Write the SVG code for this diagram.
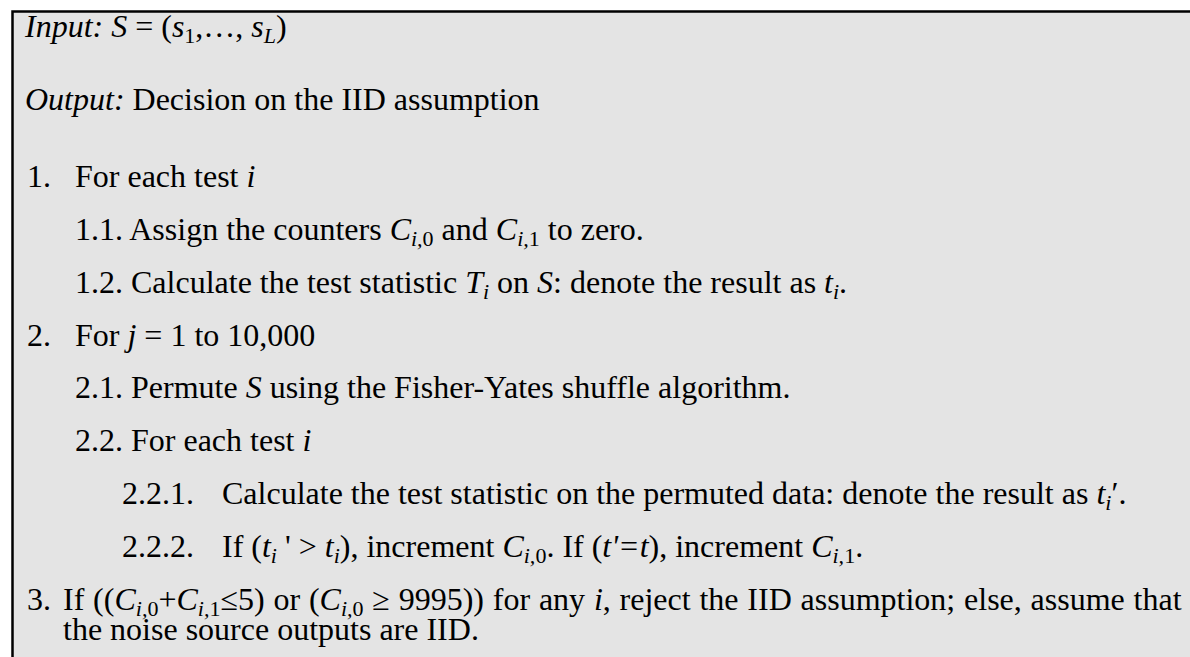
<svg xmlns="http://www.w3.org/2000/svg" width="1190" height="657" viewBox="0 0 1190 657">
<style>
text{font-family:"Liberation Serif","Times New Roman",serif;font-size:32px;fill:#000}
.i{font-style:italic}
.s{font-size:22px}
.frame{stroke:#000;stroke-width:2.5;fill:none}
</style>
<rect x="0" y="0" width="1190" height="657" fill="#fff"/>
<g id="box">
<rect x="12" y="11" width="1190" height="660" fill="#e4e4e4"/>
<path class="frame" d="M1195 11.5 H12.5 V665"/>
</g>
<g id="header">
<text x="25" y="37"><tspan class="i">Input: S</tspan> = (<tspan class="i">s</tspan><tspan class="s" dy="6">1</tspan><tspan dy="-6">,…, </tspan><tspan class="i">s</tspan><tspan class="s i" dy="6">L</tspan><tspan dy="-6">)</tspan></text>
<text x="25" y="110"><tspan class="i">Output:</tspan> Decision on the IID assumption</text>
</g>
<g id="step1">
<text x="27" y="187">1.</text>
<text x="75" y="187">For each test <tspan class="i">i</tspan></text>
<text x="75" y="240">1.1. Assign the counters <tspan class="i">C</tspan><tspan class="s" dy="6"><tspan class="i">i,</tspan>0</tspan><tspan dy="-6"> and </tspan><tspan class="i">C</tspan><tspan class="s" dy="6"><tspan class="i">i,</tspan>1</tspan><tspan dy="-6"> to zero.</tspan></text>
<text x="75" y="293">1.2. Calculate the test statistic <tspan class="i">T</tspan><tspan class="s i" dy="6">i</tspan><tspan dy="-6"> on </tspan><tspan class="i">S</tspan>: denote the result as <tspan class="i">t</tspan><tspan class="s i" dy="6">i</tspan><tspan dy="-6">.</tspan></text>
</g>
<g id="step2">
<text x="27" y="346">2.</text>
<text x="75" y="346">For <tspan class="i">j</tspan> = 1 to 10,000</text>
<text x="75" y="398">2.1. Permute <tspan class="i">S</tspan> using the Fisher-Yates shuffle algorithm.</text>
<text x="75" y="451">2.2. For each test <tspan class="i">i</tspan></text>
<text x="122" y="504">2.2.1.</text>
<text x="222" y="504">Calculate the test statistic on the permuted data: denote the result as <tspan class="i">t</tspan><tspan class="s i" dy="6">i</tspan><tspan dy="-6">′.</tspan></text>
<text x="122" y="557">2.2.2.</text>
<text x="222" y="557">If (<tspan class="i">t</tspan><tspan class="s i" dy="6">i</tspan><tspan dy="-6"> ' &gt; </tspan><tspan class="i">t</tspan><tspan class="s i" dy="6">i</tspan><tspan dy="-6">), increment </tspan><tspan class="i">C</tspan><tspan class="s" dy="6"><tspan class="i">i,</tspan>0</tspan><tspan dy="-6">. If (</tspan><tspan class="i">t'=t</tspan>), increment <tspan class="i">C</tspan><tspan class="s" dy="6"><tspan class="i">i,</tspan>1</tspan><tspan dy="-6">.</tspan></text>
</g>
<g id="step3">
<text x="27" y="610">3.</text>
<text x="63" y="610" word-spacing="0.8">If ((<tspan class="i">C</tspan><tspan class="s" dy="6"><tspan class="i">i,</tspan>0</tspan><tspan dy="-6">+</tspan><tspan class="i">C</tspan><tspan class="s" dy="6"><tspan class="i">i,</tspan>1</tspan><tspan dy="-6">≤5) or (</tspan><tspan class="i">C</tspan><tspan class="s" dy="6"><tspan class="i">i,</tspan>0</tspan><tspan dy="-6"> ≥ 9995)) for any </tspan><tspan class="i">i</tspan>, reject the IID assumption; else, assume that</text>
<text x="63" y="640">the noise source outputs are IID.</text>
</g>
</svg>
